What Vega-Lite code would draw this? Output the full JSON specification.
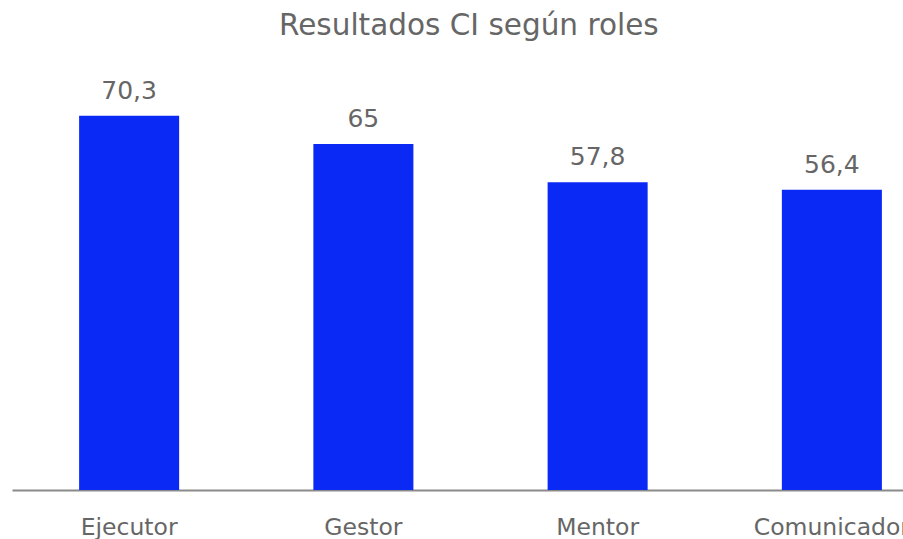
{
  "$schema": "https://vega.github.io/schema/vega-lite/v6.json",
  "autosize": "none",
  "padding": {"left": 12, "top": 64, "right": 0, "bottom": 49},
  "width": 937,
  "height": 426,
  "background": "white",
  "title": {
    "text": "Resultados CI según roles",
    "font": "DejaVu Sans",
    "fontSize": 29.5,
    "fontWeight": "normal",
    "color": "#666666",
    "anchor": "start",
    "frame": "group",
    "dx": 267,
    "offset": 23
  },
  "data": {
    "values": [
      {"rol": "Ejecutor", "valor": 70.3},
      {"rol": "Gestor", "valor": 65},
      {"rol": "Mentor", "valor": 57.8},
      {"rol": "Comunicador", "valor": 56.4}
    ]
  },
  "encoding": {
    "x": {
      "field": "rol",
      "type": "nominal",
      "sort": null,
      "scale": {"paddingInner": 0.573, "paddingOuter": 0.2865},
      "axis": {
        "title": null,
        "labelAngle": 0,
        "ticks": false,
        "domainColor": "#8a8a8a",
        "domainWidth": 2,
        "labelFont": "DejaVu Sans",
        "labelFontSize": 23.5,
        "labelColor": "#666666",
        "labelPadding": 25,
        "labelOverlap": false,
        "labelBound": false
      }
    },
    "y": {
      "field": "valor",
      "type": "quantitative",
      "scale": {"domain": [0, 80]},
      "axis": null
    }
  },
  "layer": [
    {"mark": {"type": "bar", "color": "#0B29F5"}},
    {
      "mark": {"type": "text", "baseline": "bottom", "dy": -12, "font": "DejaVu Sans", "fontSize": 25, "color": "#666666"},
      "encoding": {"text": {"field": "valor", "type": "quantitative", "format": ".1~f"}}
    }
  ],
  "config": {
    "view": {"stroke": null},
    "locale": {"number": {"decimal": ",", "thousands": ".", "grouping": [3], "currency": ["", "€"]}}
  }
}
